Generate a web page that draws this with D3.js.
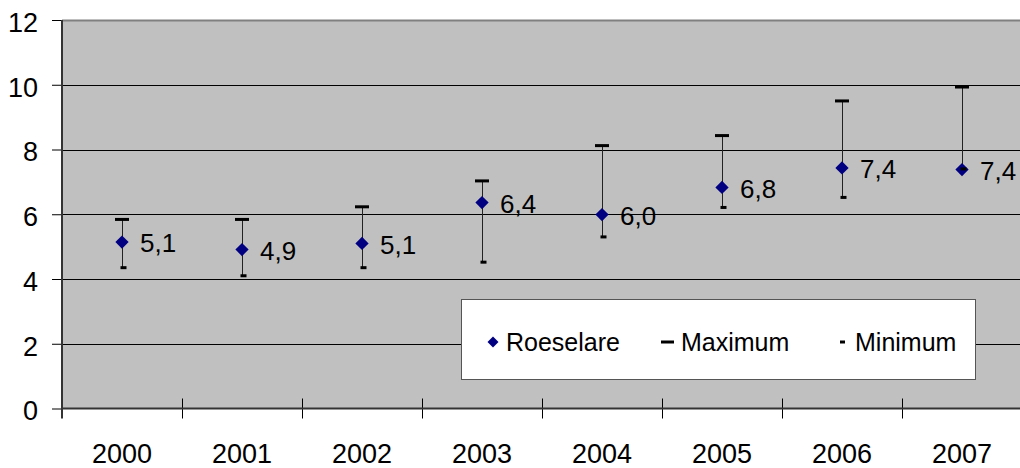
<!DOCTYPE html>
<html>
<head>
<meta charset="utf-8">
<script src="https://cdn.jsdelivr.net/npm/d3@7"></script>
<style>
    body { margin: 0; background: #fff; }
    text { font-family: Arial, "Liberation Sans", sans-serif; fill: #000; }
</style>
</head>
<body>
<script>
(function(){

    //chart data
    var years = ["2000", "2001", "2002", "2003", "2004", "2005", "2006", "2007"];
    var values = [5.14, 4.91, 5.1, 6.36, 5.99, 6.83, 7.43, 7.38]; //Roeselare
    var maxValues = [5.84, 5.84, 6.23, 7.03, 8.12, 8.43, 9.5, 9.93];
    var minValues = [4.35, 4.1, 4.35, 4.52, 5.3, 6.21, 6.52, 7.4];
    var yTicks = [0, 2, 4, 6, 8, 10, 12];
    var legendNames = ["Roeselare", "Maximum", "Minimum"];

    //begin script when window loads
    window.onload = setChart();

    function setChart(){
        var width = 1020,
            height = 468,
            left = 62,
            right = 1022,
            top = 20,
            bottom = 408.5;

        var svg = d3.select("body")
            .append("svg")
            .attr("width", width)
            .attr("height", height);

        //scales
        var x = d3.scaleBand()
            .domain(years)
            .range([left, right]);

        var y = d3.scaleLinear()
            .domain([0, 12])
            .range([bottom, top]);

        var cx = function(d){ return x(d) + x.bandwidth() / 2; };

        //comma decimal format
        var fmt = d3.formatLocale({decimal: ",", thousands: ".", grouping: [3], currency: ["", ""]}).format(".1f");

        //plot background
        svg.append("rect")
            .attr("x", left)
            .attr("y", top)
            .attr("width", right - left)
            .attr("height", bottom - top)
            .style("fill", "#c0c0c0");

        //gridlines
        svg.selectAll(".grid")
            .data(yTicks.filter(function(t){ return t > 0; }))
            .enter()
            .append("line")
            .attr("class", "grid")
            .attr("x1", left)
            .attr("x2", right)
            .attr("y1", function(d){ return Math.round(y(d)) + 0.5; })
            .attr("y2", function(d){ return Math.round(y(d)) + 0.5; })
            .style("stroke", function(d){ return d == 12 ? "#808080" : "#000"; })
            .style("stroke-width", function(d){ return d == 12 ? 2 : 1; });

        //y axis
        var yAxis = d3.axisLeft(y)
            .tickValues(yTicks)
            .tickSize(10)
            .tickPadding(14);

        var gy = svg.append("g")
            .attr("transform", "translate(" + left + ",0)")
            .call(yAxis);
        gy.select(".domain").remove();
        gy.selectAll("line").style("stroke", "#000");
        gy.selectAll("text")
            .style("font-size", "27px")
            .attr("dy", "0.42em");

        //x axis labels
        var xAxis = d3.axisBottom(x)
            .tickSize(0)
            .tickPadding(35);

        var gx = svg.append("g")
            .attr("transform", "translate(0," + bottom + ")")
            .call(xAxis);
        gx.select(".domain").remove();
        gx.selectAll("text").style("font-size", "27px");

        //x axis cross ticks at category boundaries
        svg.selectAll(".xtick")
            .data(years.slice(1))
            .enter()
            .append("line")
            .attr("class", "xtick")
            .attr("x1", function(d){ return Math.round(x(d)) + 0.5; })
            .attr("x2", function(d){ return Math.round(x(d)) + 0.5; })
            .attr("y1", bottom - 10)
            .attr("y2", bottom + 10)
            .style("stroke", "#000");

        //axis lines
        svg.append("line")
            .attr("x1", left)
            .attr("x2", right)
            .attr("y1", bottom)
            .attr("y2", bottom)
            .style("stroke", "#333")
            .style("stroke-width", 2);
        svg.append("line")
            .attr("x1", left)
            .attr("x2", left)
            .attr("y1", top)
            .attr("y2", bottom + 10)
            .style("stroke", "#333")
            .style("stroke-width", 2);

        //high-low lines
        svg.selectAll(".hilo")
            .data(years)
            .enter()
            .append("line")
            .attr("class", "hilo")
            .attr("x1", function(d){ return Math.round(cx(d)) + 0.5; })
            .attr("x2", function(d){ return Math.round(cx(d)) + 0.5; })
            .attr("y1", function(d, i){ return y(maxValues[i]); })
            .attr("y2", function(d, i){ return y(minValues[i]); })
            .style("stroke", "#222")
            .style("stroke-width", 1);

        //maximum markers
        svg.selectAll(".maxMark")
            .data(years)
            .enter()
            .append("rect")
            .attr("class", "maxMark")
            .attr("x", function(d){ return cx(d) - 7; })
            .attr("y", function(d, i){ return y(maxValues[i]) - 1.5; })
            .attr("width", 14)
            .attr("height", 3)
            .style("fill", "#000");

        //minimum markers
        svg.selectAll(".minMark")
            .data(years)
            .enter()
            .append("rect")
            .attr("class", "minMark")
            .attr("x", function(d){ return cx(d) - 1.5; })
            .attr("y", function(d, i){ return y(minValues[i]) - 1.5; })
            .attr("width", 6)
            .attr("height", 3)
            .style("fill", "#000");

        //Roeselare diamonds
        var diamond = d3.symbol().type(d3.symbolSquare).size(88);
        svg.selectAll(".value")
            .data(years)
            .enter()
            .append("path")
            .attr("class", "value")
            .attr("d", diamond)
            .attr("transform", function(d, i){
                return "translate(" + cx(d) + "," + y(values[i]) + ") rotate(45)";
            })
            .style("fill", "#000080");

        //minimum marker stays on top (2007 overlaps)
        svg.selectAll(".minMark").raise();

        //value labels
        svg.selectAll(".valueLabel")
            .data(years)
            .enter()
            .append("text")
            .attr("class", "valueLabel")
            .attr("x", function(d){ return cx(d) + 18; })
            .attr("y", function(d, i){ return y(values[i]); })
            .attr("dy", "0.4em")
            .style("font-size", "26px")
            .text(function(d, i){ return fmt(values[i]); });

        //legend
        var legend = svg.append("g").attr("class", "legend");
        legend.append("rect")
            .attr("x", 461.5)
            .attr("y", 299.5)
            .attr("width", 514)
            .attr("height", 80)
            .style("fill", "#fff")
            .style("stroke", "#555");

        var legendX = [506, 681, 855];
        var legendY = 342;

        legend.append("path")
            .attr("d", d3.symbol().type(d3.symbolSquare).size(60))
            .attr("transform", "translate(493," + legendY + ") rotate(45)")
            .style("fill", "#000080");
        legend.append("rect")
            .attr("x", 661)
            .attr("y", legendY - 1.5)
            .attr("width", 13)
            .attr("height", 3)
            .style("fill", "#000");
        legend.append("rect")
            .attr("x", 840)
            .attr("y", legendY - 1.5)
            .attr("width", 5)
            .attr("height", 3)
            .style("fill", "#000");

        legend.selectAll(".legendText")
            .data(legendNames)
            .enter()
            .append("text")
            .attr("class", "legendText")
            .attr("x", function(d, i){ return legendX[i]; })
            .attr("y", legendY)
            .attr("dy", "0.36em")
            .style("font-size", "25px")
            .text(function(d){ return d; });
    };

})();
</script>
</body>
</html>
